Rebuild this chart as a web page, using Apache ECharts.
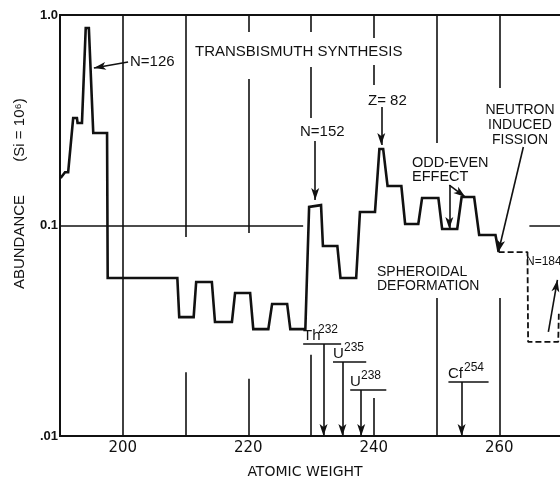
<!DOCTYPE html>
<html><head><meta charset="utf-8">
<script src="https://cdn.jsdelivr.net/npm/echarts@6/dist/echarts.min.js"></script>
<style>html,body{margin:0;padding:0;background:#fff}#c{width:560px;height:482px}</style>
</head><body><div id="c"></div>
<script>
// ---- data ----
const massNumber = [190.1,190.8,191.3,192.1,192.7,192.8,193.5,194.1,194.6,195.3,197.5,197.6,208.7,209.0,211.3,211.7,214.2,214.7,217.4,217.9,220.3,220.8,223.2,223.8,226.2,226.7,229.1,229.7,231.6,231.9,234.2,234.7,237.2,237.8,240.2,240.9,241.5,242.2,244.4,245.0,247.1,247.7,250.3,250.9,253.3,254.0,256.0,256.8,259.4,259.9];
const abundance  = [0.168,0.179,0.179,0.324,0.324,0.307,0.307,0.867,0.867,0.275,0.275,0.0563,0.0563,0.0367,0.0367,0.0539,0.0539,0.0348,0.0348,0.0478,0.0478,0.0322,0.0322,0.0424,0.0424,0.0322,0.0322,0.1225,0.125,0.0799,0.0799,0.0563,0.0563,0.116,0.116,0.231,0.231,0.154,0.154,0.1017,0.1017,0.135,0.135,0.0962,0.0962,0.1365,0.1365,0.0902,0.0902,0.0748];
const fissionMass = [259.9,264.5,264.6,269.4,269.5];
const fissionAbundance = [0.0748,0.0748,0.028,0.028,0.0385];
const nuclideSymbols = ['Th','U','U','Cf'];
const nuclideMasses = [232,235,238,254];
const xTickLabels = [200,220,240,260];
const yTickLabels = ['.01','0.1','1.0'];

const INK = '#111';
const FONT = '"Liberation Sans", Arial, "DejaVu Sans", sans-serif';

function build() {
  const curve = massNumber.map((m,i)=>[m, abundance[i]]);
  const dashed = fissionMass.map((m,i)=>[m, fissionAbundance[i]]);

  // broken grid lines [x, fromValue, toValue]
  const gridSegs = [
    [200,1,0.01],
    [210,1,0.0882],[210,0.0201,0.01],
    [220,1,0.83],[220,0.497,0.0921],[220,0.0187,0.01],
    [230,1,0.83],[230,0.566,0.324],[230,0.0243,0.01],
    [240,1,0.778],[240,0.579,0.465],[240,0.01516,0.01],
    [250,1,0.2465],[250,0.0453,0.01],
    [260,1,0.450],[260,0.0453,0.01]
  ];
  const gridLines = gridSegs.map(s=>[{coord:[s[0],s[1]]},{coord:[s[0],s[2]]}]);
  gridLines.push([{coord:[190,0.1]},{coord:[228.75,0.1]}]);
  gridLines.push([{coord:[264.8,0.1]},{coord:[270,0.1]}]);

  // nuclide underline bars [from, to, level]
  const bars = [[228.75,234.8,0.02735],[233.5,238.8,0.02248],[236.25,242.0,0.01654],[251.9,258.3,0.01805]];
  bars.forEach(b=>gridLines.push([{coord:[b[0],b[2]]},{coord:[b[1],b[2]]}]));

  const arrows = [
    [[200.85,0.598],[195.4,0.560]],
    [[230.67,0.252],[230.67,0.132]],
    [[241.2,0.3655],[241.2,0.241]],
    [[252.04,0.1557],[252.04,0.0962]],
    [[252.04,0.1557],[254.6,0.1365]],
    [[263.84,0.236],[259.86,0.0748]],
    [[267.83,0.0312],[269.27,0.0551]]
  ].map(a=>[{coord:a[0]},{coord:a[1]}]);
  nuclideMasses.forEach((m,i)=>arrows.push([{coord:[m,bars[i][2]]},{coord:[m,0.01]}]));

  const txt = (text,x,y,opt={}) => ({
    type:'text', x, y, z:50,
    rotation: opt.rot||0,
    style:{text, fill:INK, font:(opt.weight||'normal')+' '+(opt.size||15)+'px '+(opt.family||FONT),
      textAlign:opt.align||'left', align:opt.align||'left',
      textVerticalAlign:opt.va||'middle', verticalAlign:opt.va||'middle',
      lineHeight:opt.lh||undefined}
  });

  const graphics = [
    txt('TRANSBISMUTH SYNTHESIS',195,52),
    txt('N=126',130,62),
    txt('N=152',300,132),
    txt('Z= 82',368,101),
    txt('NEUTRON\nINDUCED\nFISSION',520,125,{size:14,align:'center',lh:15}),
    txt('ODD-EVEN\nEFFECT',412,170,{size:14.5,lh:13.5}),
    txt('SPHEROIDAL\nDEFORMATION',377,279,{size:14,lh:14}),
    txt('N=184',526,262,{size:12}),
    txt('ATOMIC WEIGHT',305,472,{size:14,align:'center',family:'"DejaVu Sans", sans-serif'}),
    txt('ABUNDANCE',20,242,{rot:Math.PI/2,align:'center'}),
    txt('(Si = 10⁶)',20,130,{rot:Math.PI/2,align:'center'}),
    txt(nuclideSymbols[0],303,343,{size:15,va:'bottom'}),
    txt(String(nuclideMasses[0]),318,336,{size:12,va:'bottom'}),
    txt(nuclideSymbols[1],333,361,{size:15,va:'bottom'}),
    txt(String(nuclideMasses[1]),344,354,{size:12,va:'bottom'}),
    txt(nuclideSymbols[2],350,389,{size:15,va:'bottom'}),
    txt(String(nuclideMasses[2]),361,382,{size:12,va:'bottom'}),
    txt(nuclideSymbols[3],448,381,{size:15,va:'bottom'}),
    txt(String(nuclideMasses[3]),464,374,{size:12,va:'bottom'})
  ];

  return {
    animation:false,
    backgroundColor:'#fff',
    grid:{left:60, top:15, width:502, height:421, show:true, borderColor:INK, borderWidth:2, backgroundColor:'transparent',
      containLabel:false, outerBoundsMode:'none'},
    xAxis:{type:'value', min:190, max:270, interval:10,
      axisLine:{show:false}, axisTick:{show:false}, splitLine:{show:false},
      axisLabel:{margin:5, color:INK, fontSize:15, fontFamily:'"DejaVu Sans", sans-serif',
        formatter:v=> xTickLabels.includes(Math.round(v)) ? String(Math.round(v)) : ''}},
    yAxis:{type:'log', logBase:10, min:0.01, max:1,
      axisLine:{show:false}, axisTick:{show:false}, splitLine:{show:false}, minorTick:{show:false},
      axisLabel:{margin:2, color:INK, fontSize:13, fontWeight:'bold', fontFamily:FONT,
        formatter:v=> yTickLabels[Math.round(Math.log10(v))+2]}},
    graphic:graphics,
    series:[
      {type:'line', name:'grid', data:[], silent:true,
        markLine:{silent:true, symbol:['none','none'], animation:false, label:{show:false}, emphasis:{disabled:true},
          lineStyle:{color:INK, width:1.6, type:'solid'}, data:gridLines}},
      {type:'line', name:'arrows', data:[], silent:true,
        markLine:{silent:true, symbol:['none','arrow'], symbolSize:[6,12], animation:false, label:{show:false}, emphasis:{disabled:true},
          itemStyle:{color:INK}, lineStyle:{color:INK, width:1.6, type:'solid'}, data:arrows}},
      {type:'line', name:'abundance', data:curve, showSymbol:false, symbol:'none', z:10,
        lineStyle:{color:INK, width:2.6, join:'miter'}},
      {type:'line', name:'fission', data:dashed, showSymbol:false, symbol:'none', z:10,
        lineStyle:{color:INK, width:1.8, type:[6,3]}}
    ]
  };
}
const chart = echarts.init(document.getElementById('c'), null, {renderer:'canvas'});
chart.setOption(build());
</script></body></html>
